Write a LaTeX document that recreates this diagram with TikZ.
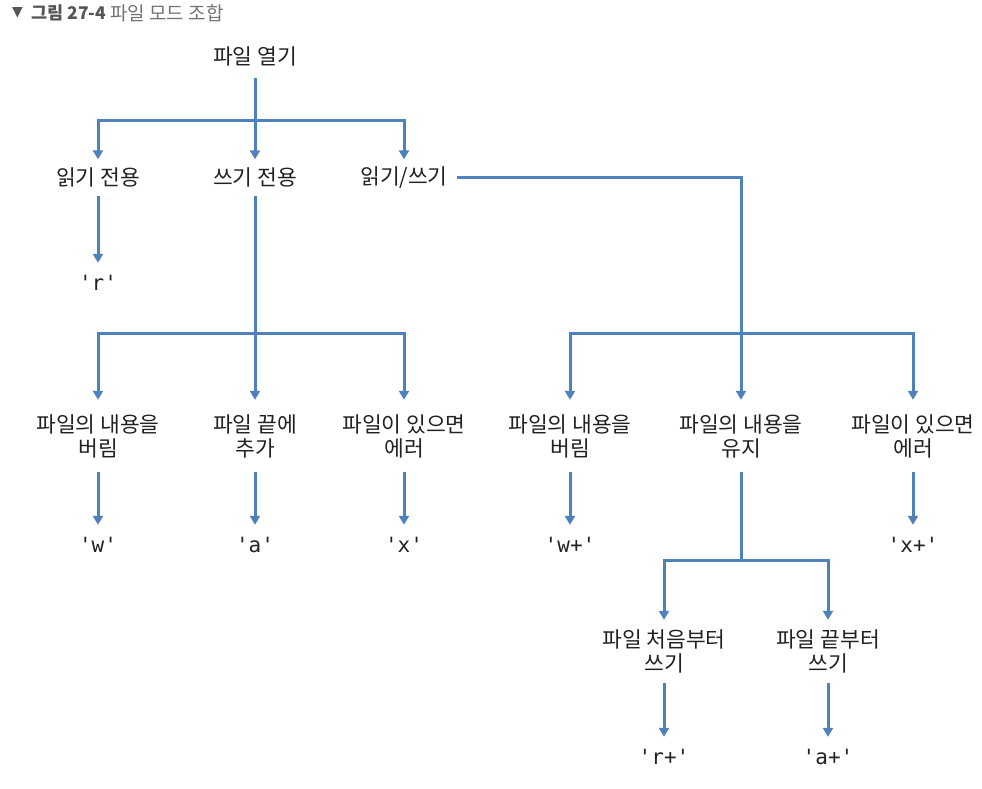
\documentclass[tikz,border=0pt]{standalone}
\usepackage{fontspec}
\setmainfont{Noto Sans CJK KR}
\newfontfamily\codefont{DejaVu Sans Mono}
\newfontfamily\symfont{DejaVu Sans}
\usetikzlibrary{arrows.meta}
\definecolor{lineblue}{RGB}{79,129,189}
\definecolor{txt}{RGB}{34,34,34}
\definecolor{hdrdark}{RGB}{85,85,85}
\definecolor{hdrlight}{RGB}{115,115,115}
\begin{document}
\begin{tikzpicture}[x=1pt,y=-1pt,
  lbl/.style={inner sep=0pt, font=\fontsize{21.5}{24}\selectfont, text=txt, align=center},
  one/.style={lbl, minimum height=36pt, minimum width=60pt},
  two/.style={lbl, minimum height=72pt, minimum width=80pt},
  code/.style={inner sep=0pt, minimum height=40pt, font=\codefont\fontsize{21}{24}\selectfont, text=txt},
  hdr/.style={anchor=west, inner sep=0pt, font=\fontsize{19}{22}\selectfont},
  conn/.style={draw=lineblue, line width=3pt},
  arr/.style={conn, -{Triangle[width=10pt,length=9pt]}}
]
\useasboundingbox (0,0) rectangle (982,788);
% header
\node[hdr, font=\symfont\fontsize{14}{18}\selectfont, text=hdrdark] (tri) at (12,13) {▼};
\node[hdr, font=\fontsize{17.5}{22}\selectfont\bfseries, text=hdrdark] (fig) at (31,13) {그림 27-4};
\node[hdr, text=hdrlight] (title) at (110,13) {파일 모드 조합};

% level 0
\node[lbl, minimum height=44pt] (open) at (255,56) {파일 열기};
% level 1
\node[one] (ro) at (98,177.5) {읽기 전용};
\node[one] (wo) at (255,177.5) {쓰기 전용};
\node[one, minimum width=0pt, inner xsep=9pt] (rw) at (404,177.5) {읽기/쓰기};
\node[code] (r) at (98,283) {'r'};
% level 2 left
\node[two] (wtrunc) at (98,436) {파일의 내용을\\버림};
\node[two] (wapp) at (255,436) {파일 끝에\\추가};
\node[two] (wx) at (404,436) {파일이 있으면\\에러};
\node[code] (w) at (98,545) {'w'};
\node[code] (a) at (255,545) {'a'};
\node[code] (x) at (404,545) {'x'};
% level 2 right
\node[two] (rwtrunc) at (570,436) {파일의 내용을\\버림};
\node[two] (keep) at (741,436) {파일의 내용을\\유지};
\node[two] (rwx) at (913,436) {파일이 있으면\\에러};
\node[code] (wp) at (570,545) {'w+'};
\node[code] (xp) at (913,545) {'x+'};
% level 3
\node[two, minimum height=63pt] (fromstart) at (664,651.5) {파일 처음부터\\쓰기};
\node[two, minimum height=63pt] (fromend) at (828,651.5) {파일 끝부터\\쓰기};
\node[code] (rp) at (664,757) {'r+'};
\node[code] (ap) at (828,757) {'a+'};

% junctions
\coordinate (j0) at (255,120);
\coordinate (j0l) at (98,120);
\coordinate (j0r) at (404,120);
\coordinate (j1) at (255,333);
\coordinate (j1l) at (98,333);
\coordinate (j1r) at (404,333);
\coordinate (j2l) at (570,333);
\coordinate (j2r) at (913,333);
\coordinate (j3) at (741,560);
\coordinate (j3l) at (664,560);
\coordinate (j3r) at (828,560);

% connectors
\draw[conn] (open.south) -- (j0);
\draw[arr] (j0) -- (j0l) -- (ro.north);
\draw[arr] (j0) -- (wo.north);
\draw[arr] (j0) -- (j0r) -- (rw.north);
\draw[arr] (ro.south) -- (r.north);

\draw[conn] (wo.south) -- (j1);
\draw[arr] (j1) -- (j1l) -- (wtrunc.north);
\draw[arr] (j1) -- (wapp.north);
\draw[arr] (j1) -- (j1r) -- (wx.north);
\draw[arr] (wtrunc.south) -- (w.north);
\draw[arr] (wapp.south) -- (a.north);
\draw[arr] (wx.south) -- (x.north);

\draw[arr] (rw.east) -| (keep.north);
\draw[arr] (j2l) -- (j2r) -- (rwx.north);
\draw[arr] (j2r) -- (j2l) -- (rwtrunc.north);
\draw[arr] (rwtrunc.south) -- (wp.north);
\draw[arr] (rwx.south) -- (xp.north);

\draw[conn] (keep.south) -- (j3);
\draw[arr] (j3) -- (j3l) -- (fromstart.north);
\draw[arr] (j3) -- (j3r) -- (fromend.north);
\draw[arr] (fromstart.south) -- (rp.north);
\draw[arr] (fromend.south) -- (ap.north);
\end{tikzpicture}
\end{document}
